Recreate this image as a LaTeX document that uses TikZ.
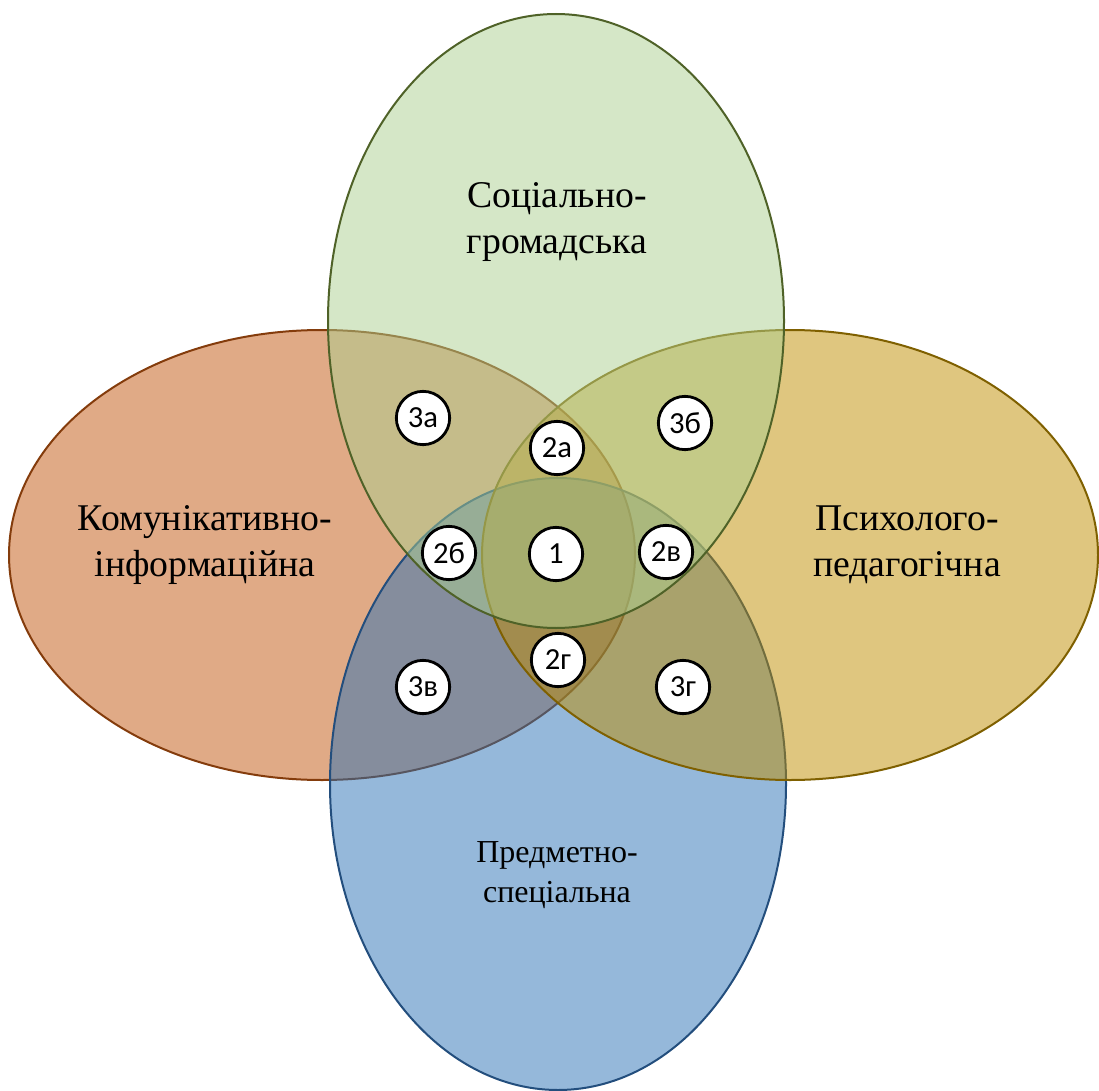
\documentclass[tikz,border=0pt]{standalone}
\usepackage{fontspec}
\setmainfont{Liberation Serif}
\newfontfamily\numfont{Carlito}
\definecolor{orfill}{RGB}{193,85,13}
\definecolor{orline}{RGB}{132,60,12}
\definecolor{blfill}{RGB}{43,113,181}
\definecolor{blline}{RGB}{35,78,125}
\definecolor{yefill}{RGB}{191,141,0}
\definecolor{yeline}{RGB}{127,96,0}
\definecolor{grfill}{RGB}{171,207,143}
\definecolor{grline}{RGB}{79,98,40}
\tikzset{
  venn/.style={fill opacity=0.5, line width=1.5pt},
  lbl/.style={align=center, inner sep=0pt, font=\fontsize{28.3pt}{34.5pt}\selectfont},
  num/.style={circle, draw=black, fill=white, line width=2.1pt, minimum size=40pt, inner sep=0pt, font=\numfont\fontsize{23pt}{25pt}\selectfont}
}
\begin{document}
\begin{tikzpicture}[x=0.75pt, y=-0.75pt]
\useasboundingbox (0,0) rectangle (1099,1091);
% ellipses
\path[venn, fill=orfill, draw=orline] (322,555) ellipse [x radius=313, y radius=225];
\path[venn, fill=blfill, draw=blline] (558,784) ellipse [x radius=228, y radius=306];
\path[venn, fill=yefill, draw=yeline] (790,555) ellipse [x radius=308, y radius=225];
\path[venn, fill=grfill, draw=grline] (556,321) ellipse [x radius=228, y radius=307];
% labels
\node[lbl] (soc) at (557,222) {Соціально-\\громадська};
\node[lbl] (kom) at (205,545) {Комунікативно-\\інформаційна};
\node[lbl] (psy) at (907,545) {Психолого-\\педагогічна};
\node[lbl, font=\fontsize{24pt}{30pt}\selectfont] (pre) at (557,875) {Предметно-\\спеціальна};
% numbered circles
\node[num] (n3a) at (423,418) {3а};
\node[num] (n2a) at (557,448) {2а};
\node[num] (n3b) at (685,423) {3б};
\node[num] (n2b) at (449,553) {2б};
\node[num] (n1)  at (556,554) {1};
\node[num] (n2v) at (666,552) {2в};
\node[num] (n3v) at (423,687) {3в};
\node[num] (n2g) at (558,660) {2г};
\node[num] (n3g) at (683,687) {3г};
\end{tikzpicture}
\end{document}
